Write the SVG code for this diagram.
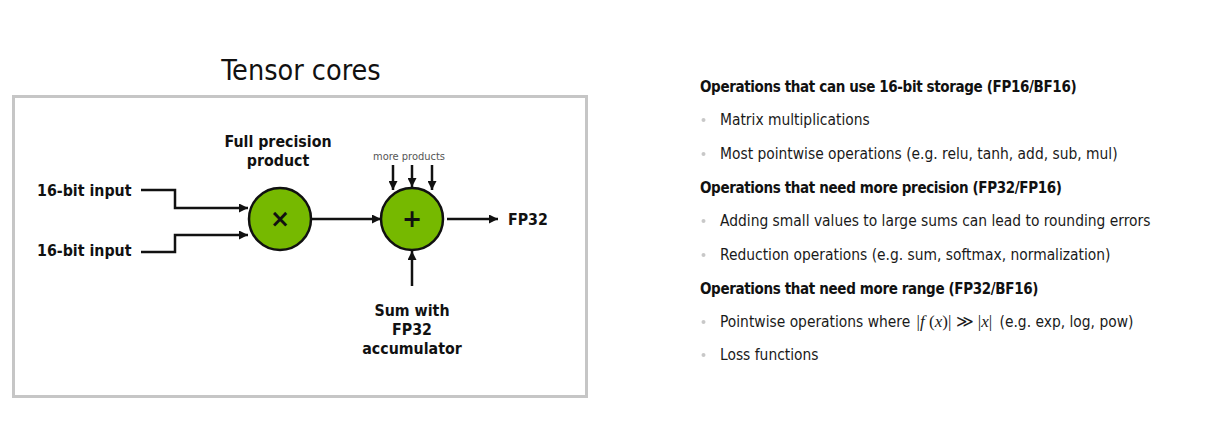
<svg xmlns="http://www.w3.org/2000/svg" width="1224" height="430" viewBox="0 0 1224 430">
  <style>
    .title { font-family: "DejaVu Sans Condensed", "DejaVu Sans", sans-serif; font-stretch: condensed; font-size: 28.5px; fill: #111; }
    .lbl { font-family: "DejaVu Sans Condensed", "DejaVu Sans", sans-serif; font-stretch: condensed; font-weight: bold; font-size: 15.8px; fill: #111; }
    .small { font-family: "DejaVu Sans Condensed", "DejaVu Sans", sans-serif; font-stretch: condensed; font-size: 11px; fill: #555; }
    .sym { font-family: "DejaVu Sans", sans-serif; font-weight: bold; font-size: 24px; fill: #111; }
    .wire { fill: none; stroke: #111; stroke-width: 2.5; }
    .op { fill: #76b900; stroke: #111; stroke-width: 2.5; }
    .head { font-family: "DejaVu Sans Condensed", "DejaVu Sans", sans-serif; font-stretch: condensed; font-weight: bold; font-size: 15px; letter-spacing: -0.36px; fill: #111; }
    .item { font-family: "DejaVu Sans Condensed", "DejaVu Sans", sans-serif; font-stretch: condensed; font-size: 15.4px; fill: #1a1a1a; }
    .math { font-family: "Liberation Serif", serif; font-size: 17px; }
    .var { font-style: italic; }
    .bullet { fill: #c8c8c8; }
  </style>
  <defs>
    <marker id="arrow" viewBox="0 0 10 10" refX="10" refY="5" markerWidth="10" markerHeight="9" markerUnits="userSpaceOnUse" orient="auto">
      <path d="M0,0 L10,5 L0,10 z" fill="#111"/>
    </marker>
  </defs>

  <!-- left panel: tensor core datapath -->
  <text class="title" x="301" y="80" text-anchor="middle">Tensor cores</text>
  <rect x="13.5" y="96.5" width="573" height="300" fill="#fff" stroke="#c6c6c6" stroke-width="3"/>

  <g id="connectors">
    <path class="wire" d="M141,190 H175 V208 H248" marker-end="url(#arrow)"/>
    <path class="wire" d="M141,252 H175 V235 H248" marker-end="url(#arrow)"/>
    <path class="wire" d="M311,219 H381" marker-end="url(#arrow)"/>
    <path class="wire" d="M447,219 H498" marker-end="url(#arrow)"/>
    <path class="wire" d="M393,165 V190" marker-end="url(#arrow)"/>
    <path class="wire" d="M412,165 V187" marker-end="url(#arrow)"/>
    <path class="wire" d="M432,165 V190" marker-end="url(#arrow)"/>
    <path class="wire" d="M412,286 V251" marker-end="url(#arrow)"/>
  </g>

  <g id="input-a">
    <text class="lbl" x="37" y="196">16-bit input</text>
  </g>
  <g id="input-b">
    <text class="lbl" x="37" y="256">16-bit input</text>
  </g>

  <g id="multiply">
    <text class="lbl" x="278" y="147" text-anchor="middle">Full precision</text>
    <text class="lbl" x="278" y="166" text-anchor="middle">product</text>
    <circle class="op" cx="280" cy="219" r="31"/>
    <text class="sym" x="280" y="227" text-anchor="middle">×</text>
  </g>

  <g id="accumulate">
    <text class="small" x="409" y="160" text-anchor="middle">more products</text>
    <circle class="op" cx="412" cy="219" r="31"/>
    <text class="sym" x="412" y="227" text-anchor="middle">+</text>
  </g>

  <g id="output">
    <text class="lbl" x="508" y="225">FP32</text>
  </g>

  <g id="accumulator">
    <text class="lbl" x="412" y="316" text-anchor="middle">Sum with</text>
    <text class="lbl" x="412" y="335" text-anchor="middle">FP32</text>
    <text class="lbl" x="412" y="354" text-anchor="middle">accumulator</text>
  </g>

  <!-- right panel: precision guidelines -->
  <g id="notes">
    <text class="head" x="700" y="92">Operations that can use 16-bit storage (FP16/BF16)</text>
    <circle class="bullet" cx="703.5" cy="120" r="2"/>
    <text class="item" x="720" y="125">Matrix multiplications</text>
    <circle class="bullet" cx="703.5" cy="154" r="2"/>
    <text class="item" x="720" y="159">Most pointwise operations (e.g. relu, tanh, add, sub, mul)</text>

    <text class="head" x="700" y="193">Operations that need more precision (FP32/FP16)</text>
    <circle class="bullet" cx="703.5" cy="221" r="2"/>
    <text class="item" x="720" y="226">Adding small values to large sums can lead to rounding errors</text>
    <circle class="bullet" cx="703.5" cy="255" r="2"/>
    <text class="item" x="720" y="260">Reduction operations (e.g. sum, softmax, normalization)</text>

    <text class="head" x="700" y="294">Operations that need more range (FP32/BF16)</text>
    <circle class="bullet" cx="703.5" cy="322" r="2"/>
    <text class="item" x="720" y="327">Pointwise operations where <tspan class="math" dx="2">|<tspan class="var">f</tspan> (<tspan class="var">x</tspan>)| ≫ |<tspan class="var">x</tspan>|</tspan> <tspan dx="3">(e.g. exp, log, pow)</tspan></text>
    <circle class="bullet" cx="703.5" cy="355" r="2"/>
    <text class="item" x="720" y="360">Loss functions</text>
  </g>
</svg>
